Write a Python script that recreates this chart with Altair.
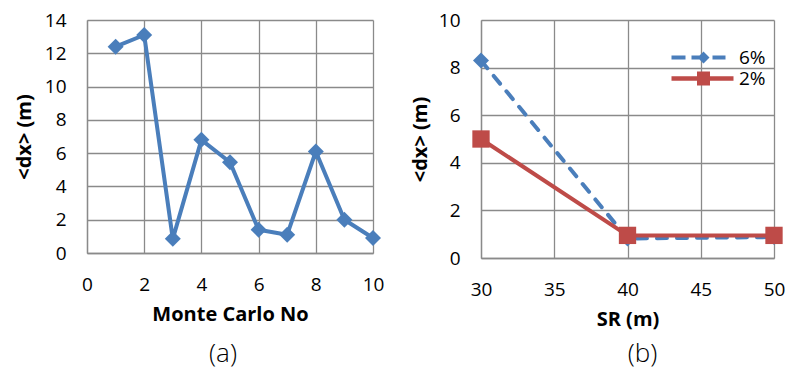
import altair as alt
import pandas as pd

# ---------------- data ----------------
mc_no = [1, 2, 3, 4, 5, 6, 7, 8, 9, 10]
mc_dx = [12.4, 13.1, 0.85, 6.8, 5.45, 1.4, 1.1, 6.1, 2.0, 0.9]

sr_values = [30, 40, 50]
dx_6pct = [8.3, 0.82, 0.88]
dx_2pct = [5.0, 0.95, 0.95]
series_names = ["6%", "2%"]

FONT = "Open Sans"
BLUE = "#4a7ebb"
RED = "#be4b48"
GRID = "#8a8a8a"

df_a = pd.DataFrame({"mc": mc_no, "dx": mc_dx})
df_b = pd.DataFrame({
    "sr": sr_values * 2,
    "dx": dx_6pct + dx_2pct,
    "series": [series_names[0]] * len(sr_values) + [series_names[1]] * len(sr_values),
})

axis_style = dict(
    grid=True, gridColor=GRID, gridWidth=1.3,
    domainColor=GRID, domainWidth=1.3,
    ticks=False, tickSize=0,
    labelFont=FONT, labelFontSize=19, labelColor="black",
    titleFont=FONT, titleFontSize=20, titleFontWeight="bold", titleColor="black",
)
xaxis_style = dict(labelPadding=22, titlePadding=10, labelFlush=False, **axis_style)

# ---------------- panel (a) ----------------
x_a = alt.X("mc:Q", scale=alt.Scale(domain=[0, 10], nice=False),
            axis=alt.Axis(values=[0, 2, 4, 6, 8, 10], title="Monte Carlo No", **xaxis_style))
y_a = alt.Y("dx:Q", scale=alt.Scale(domain=[0, 14], nice=False),
            axis=alt.Axis(values=[0, 2, 4, 6, 8, 10, 12, 14], title="<dx> (m)",
                          labelPadding=21, titlePadding=10, **axis_style))

line_a = alt.Chart(df_a).mark_line(color=BLUE, strokeWidth=4, strokeJoin="round", strokeCap="round").encode(x_a, y_a)
pts_a = alt.Chart(df_a).mark_point(shape="diamond", filled=True, size=256, color=BLUE, opacity=1).encode(x_a, y_a)

chart_a = alt.layer(line_a, pts_a).properties(
    width=286, height=233,
    title=alt.TitleParams("(a)", orient="bottom", anchor="middle", frame="group",
                          font=FONT, fontSize=26, fontWeight=300, color="black",
                          offset=17, dx=-7),
)

# ---------------- panel (b) ----------------
# legend symbols: line + marker drawn as one custom symbol path (pixel units, size=4)
path_6 = "M0,-2H14V2H0Z M20,-2H30V2H20Z M26,0L32,-6L38,0L32,6Z M41,-2H54V2H41Z"
path_2 = "M0,-2.2H62V2.2H0Z M25.5,-7H38.5V7H25.5Z"

x_b = alt.X("sr:Q", scale=alt.Scale(domain=[30, 50], nice=False),
            axis=alt.Axis(values=[30, 35, 40, 45, 50], title="SR (m)", **xaxis_style))
y_b = alt.Y("dx:Q", scale=alt.Scale(domain=[0, 10], nice=False),
            axis=alt.Axis(values=[0, 2, 4, 6, 8, 10], title="<dx> (m)",
                          labelPadding=21, titlePadding=8, **axis_style))

base6 = alt.Chart(df_b).transform_filter(alt.datum.series == series_names[0])
base2 = alt.Chart(df_b).transform_filter(alt.datum.series == series_names[1])

line_6 = base6.mark_line(color=BLUE, strokeWidth=4, strokeDash=[10, 10], strokeCap="round",
                         strokeJoin="round").encode(x_b, y_b)
line_2 = base2.mark_line(color=RED, strokeWidth=4, strokeJoin="round").encode(x_b, y_b)
pts_6 = base6.mark_point(shape="diamond", filled=True, size=256, color=BLUE, opacity=1).encode(x_b, y_b)
pts_2 = base2.mark_point(shape="square", filled=True, size=300, color=RED, opacity=1).encode(x_b, y_b)

legend_b = alt.Legend(
    title=None, orient="none", legendX=575, legendY=28,
    symbolSize=4, symbolStrokeWidth=0, symbolOpacity=1,
    labelOffset=58, rowPadding=1, padding=0,
    labelFont=FONT, labelFontSize=19, labelColor="black",
)
legend_layer = alt.Chart(df_b).transform_filter("false").mark_point(filled=True, size=4, opacity=1).encode(
    x_b, y_b,
    color=alt.Color("series:N", scale=alt.Scale(domain=series_names, range=[BLUE, RED]),
                    legend=legend_b, sort=series_names),
    shape=alt.Shape("series:N", scale=alt.Scale(domain=series_names, range=[path_6, path_2]),
                    legend=legend_b, sort=series_names),
)

chart_b = alt.layer(line_6, line_2, pts_6, pts_2, legend_layer).properties(
    width=293, height=238,
    title=alt.TitleParams("(b)", orient="bottom", anchor="middle", frame="group",
                          font=FONT, fontSize=26, fontWeight=300, color="black",
                          offset=12, dx=15),
)

chart = alt.hconcat(chart_a, chart_b, spacing=26).properties(
    padding={"left": 6, "top": 3, "right": 0, "bottom": 2}
).configure_view(stroke=None)

chart.save("out.html", embed_options={"renderer": "svg", "actions": False})
